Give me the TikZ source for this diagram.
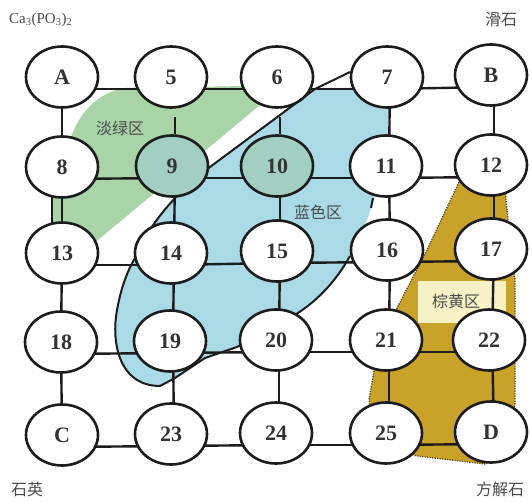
\documentclass[tikz,border=0pt]{standalone}
\usepackage{fontspec}
\setmainfont{Liberation Serif}
\newfontfamily\cjk{Noto Sans CJK SC}
\usetikzlibrary{shapes.geometric}
\pgfdeclarelayer{fills}
\pgfdeclarelayer{lines}
\pgfsetlayers{fills,lines,main}
\definecolor{edgec}{HTML}{1C1C1C}
\definecolor{numc}{HTML}{333333}
\definecolor{labc}{HTML}{4A4A4A}
\definecolor{greenc}{HTML}{A9D4A8}
\definecolor{bluec}{HTML}{ABDAE7}
\definecolor{tealc}{HTML}{A2CFC2}
\definecolor{brownc}{HTML}{C9A22A}
\definecolor{yellowc}{HTML}{F6F2C6}
\definecolor{browndot}{HTML}{5A4A20}
\begin{document}
\begin{tikzpicture}[x=1pt,y=-1pt,
  vnode/.style={ellipse,draw=edgec,line width=2.6pt,fill=white,minimum width=72pt,minimum height=61pt,inner sep=0pt,font=\fontsize{22}{22}\selectfont\bfseries,text=numc},
  tnode/.style={vnode,fill=tealc},
  edge/.style={draw=edgec,line width=2.4pt},
  rim/.style={draw=edgec,line width=2pt},
  lab/.style={text=labc,font=\cjk\fontsize{16}{16}\selectfont,inner sep=0pt},
  corner/.style={text=labc,font=\cjk\fontsize{16}{16}\selectfont,inner sep=0pt}
]
\useasboundingbox (0,0) rectangle (532,502);
% nodes
\node[vnode] (nA) at (62,77) {A};
\node[vnode] (n5) at (171,77) {5};
\node[vnode] (n6) at (277,77) {6};
\node[vnode] (n7) at (387,77) {7};
\node[vnode] (nB) at (491,75) {B};
\node[vnode] (n8) at (62,167) {8};
\node[tnode] (n9) at (172,166) {9};
\node[tnode] (n10) at (277,166) {10};
\node[vnode] (n11) at (386,166) {11};
\node[vnode] (n12) at (491,165) {12};
\node[vnode] (n13) at (62,253) {13};
\node[vnode] (n14) at (171,253) {14};
\node[vnode] (n15) at (277,251) {15};
\node[vnode] (n16) at (387,250) {16};
\node[vnode] (n17) at (491,249) {17};
\node[vnode] (n18) at (61,342) {18};
\node[vnode] (n19) at (170,341) {19};
\node[vnode] (n20) at (276,340) {20};
\node[vnode] (n21) at (386,340) {21};
\node[vnode] (n22) at (489,340) {22};
\node[vnode] (nC) at (62,435) {C};
\node[vnode] (n23) at (171,434) {23};
\node[vnode] (n24) at (276,433) {24};
\node[vnode] (n25) at (386,433) {25};
\node[vnode] (nD) at (491,432) {D};
% labels
\node[lab] (tg) at (120,128) {淡绿区};
\node[lab] (tb) at (318,212) {蓝色区};
\node[lab] (ty) at (456,301) {棕黄区};
\node[anchor=west,text=labc,font=\fontsize{15}{15}\selectfont,inner sep=0pt] (tca) at (9,20) {Ca\textsubscript{3}(PO\textsubscript{3})\textsubscript{2}};
\node[corner] (tt) at (501,20) {滑石};
\node[corner] (tq) at (27,489) {石英};
\node[corner] (tf) at (500,489) {方解石};
% fills
\begin{pgfonlayer}{fills}
\fill[white] (0,0) rectangle (532,502);
\fill[greenc] (52,232) -- (52,190) -- (70,140) .. controls (80,110) and (100,92) .. (125,88) -- (245,86) -- (266,100) -- (80,255) -- (60,258) -- cycle;
\fill[bluec] (315,88) -- (388,88) -- (388,150) -- (372,205) .. controls (366,225) and (358,240) .. (350,256) .. controls (335,283) and (315,303) .. (293,316) -- (237,347) -- (205,358) -- (175,378) -- (160,386) .. controls (118,386) and (110,340) .. (118,305) .. controls (122,285) and (128,270) .. (135,258) .. controls (145,235) and (160,212) .. (185,188) -- (210,167) -- cycle;
\path[fill=brownc,draw=browndot,line width=1.3pt,dash pattern=on 1.3pt off 1.2pt] (460,180) -- (427,250) -- (397,308) -- (375,365) -- (369,400) .. controls (372,425) and (390,448) .. (417,456) -- (485,464) -- (515,405) -- (515,280) -- (508,220) -- (505,190) -- cycle;
\fill[yellowc] (418,281) rectangle (506,323);
\end{pgfonlayer}
% connectors
\begin{pgfonlayer}{lines}
\foreach \a/\b in {nA/n5,n5/n6,n6/n7,n7/nB,n8/n9,n9/n10,n10/n11,n11/n12,n13/n14,n14/n15,n15/n16,n16/n17,n18/n19,n19/n20,n20/n21,n21/n22,nC/n23,n23/n24,n24/n25,n25/nD}
  \draw[edge] ([yshift=-12pt]\a.center) -- ([yshift=-12pt]\b.center);
\foreach \a/\b in {nA/n8,n8/n13,n13/n18,n18/nC}
  \draw[edge] (\a.center) -- (\b.center);
\foreach \a/\b in {n9/n14,n14/n19,n19/n23,n10/n15,n15/n20,n20/n24,n7/n11,n11/n16,n16/n21,n21/n25,nB/n12,n12/n17,n17/n22,n22/nD}
  \draw[edge] ([xshift=3pt]\a.center) -- ([xshift=3pt]\b.center);
\draw[edge] ([xshift=3pt]n9.north) -- ++(0,-17);
\draw[edge] ([xshift=3pt]n10.north) -- ++(0,-17);
% region rims
\draw[rim] (52,190) -- (52,234);
\draw[rim] (350,256) .. controls (335,283) and (315,303) .. (293,316) -- (237,347) -- (205,358) -- (175,378) -- (160,386) .. controls (118,386) and (110,340) .. (118,305) .. controls (122,285) and (128,270) .. (135,258) .. controls (145,235) and (160,212) .. (185,188) -- (210,167) -- (315,89) -- (350,72);
\draw[rim] (373,198) -- (371,208);
\end{pgfonlayer}
\end{tikzpicture}
\end{document}
